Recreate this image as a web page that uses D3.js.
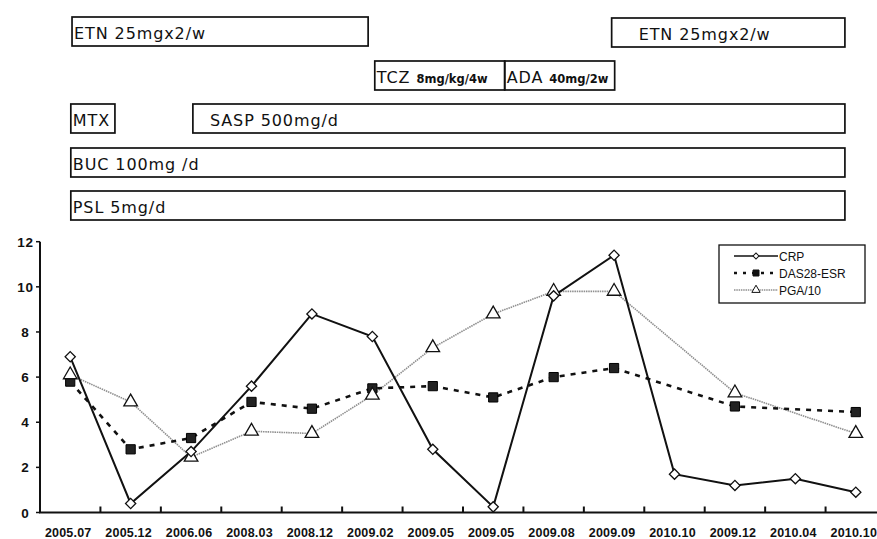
<!DOCTYPE html>
<html><head><meta charset="utf-8">
<script src="https://cdn.jsdelivr.net/npm/d3@7"></script>
<style>
body{margin:0;background:#fff;}
svg{display:block;}
</style></head>
<body>
<svg id="c" width="877" height="539"></svg>
<script>
// ---- data ----
const categories = ["2005.07","2005.12","2006.06","2008.03","2008.12","2009.02","2009.05","2009.05","2009.08","2009.09","2010.10","2009.12","2010.04","2010.10"];
const crp   = [6.9, 0.4, 2.7, 5.6, 8.8, 7.8, 2.8, 0.25, 9.6, 11.4, 1.7, 1.2, 1.5, 0.9];
const das28 = [5.8, 2.8, 3.3, 4.9, 4.6, 5.5, 5.6, 5.1, 6.0, 6.4, null, 4.7, null, 4.45];
const pga10 = [6.1, 4.9, 2.45, 3.6, 3.5, 5.2, 7.3, 8.8, 9.8, 9.8, null, 5.3, null, 3.5];
const yTicks = [0, 2, 4, 6, 8, 10, 12];
const seriesNames = ["CRP", "DAS28-ESR", "PGA/10"];
// treatments: start/end in category-index units (0 = first time point)
const treatNames  = ["ETN 25mgx2/w", "ETN 25mgx2/w", "TCZ", "ADA", "MTX", "SASP 500mg/d", "BUC 100mg /d", "PSL 5mg/d"];
const treatDose   = ["", "", "8mg/kg/4w", "40mg/2w", "", "", "", ""];
const treatStart  = [0.03, 8.96, 5.04, 7.19, 0.01, 2.03, 0.01, 0.01];
const treatEnd    = [4.93, 12.82, 7.19, 9.01, 0.74, 12.82, 12.82, 12.82];
const treatRow    = [0, 0, 1, 1, 2, 2, 3, 4];

// ---- layout ----
const svg = d3.select("#c");
const idx = d3.range(categories.length);
const x = d3.scaleBand().domain(idx).range([40, 886]).padding(0);
const xc = i => x(i) + x.bandwidth() / 2;
const tl = d3.scaleLinear().domain([-0.5, 13.5]).range([40, 886]);
const y = d3.scaleLinear().domain([0, 12]).range([512.5, 241.7]);

const fontMain = "'Liberation Sans', Arial, sans-serif";
const fontBox = "'DejaVu Sans', sans-serif";

// ---- treatment boxes ----
const rowTop = [17, 61, 104, 148, 191];
const rowH = 29;
const g0 = svg.append("g");
treatNames.forEach((nm, k) => {
  const x0 = tl(treatStart[k]), x1 = tl(treatEnd[k]);
  const yt = rowTop[treatRow[k]] + (k === 1 ? 1 : 0);
  g0.append("rect").attr("x", x0).attr("y", yt).attr("width", x1 - x0).attr("height", rowH)
    .attr("fill", "none").attr("stroke", "#111").attr("stroke-width", 1.7);
  let tx = x0 + 2;
  if (k === 1) tx = x0 + 27;
  if (k === 5) tx = x0 + 17;
  const t = g0.append("text").attr("x", tx).attr("y", yt + 21.5)
    .attr("font-family", fontBox).attr("font-size", 16).attr("fill", "#111")
    .attr("letter-spacing", 0.9);
  t.append("tspan").text(nm);
  if (treatDose[k]) {
    t.append("tspan").attr("font-size", 11.5).attr("font-weight", "bold").attr("letter-spacing", 0)
      .attr("dx", 6).text(treatDose[k]);
  }
});

// ---- axes ----
const ga = svg.append("g");
ga.append("line").attr("x1", 40).attr("x2", 40).attr("y1", y(12)).attr("y2", y(0))
  .attr("stroke", "#111").attr("stroke-width", 2);
ga.append("line").attr("x1", 39).attr("x2", 886).attr("y1", y(0)).attr("y2", y(0))
  .attr("stroke", "#111").attr("stroke-width", 2.2);
yTicks.forEach(v => {
  ga.append("line").attr("x1", 36).attr("x2", 40).attr("y1", y(v)).attr("y2", y(v))
    .attr("stroke", "#111").attr("stroke-width", 1.5);
  ga.append("text").attr("x", 25.5).attr("y", y(v) + 5).attr("text-anchor", "middle")
    .attr("font-family", fontMain).attr("font-size", 13.5).attr("font-weight", "bold")
    .attr("letter-spacing", 0.8).attr("fill", "#111").text(v);
});
idx.forEach(i => {
  if (i > 0) ga.append("line").attr("x1", x(i)).attr("x2", x(i)).attr("y1", y(0)).attr("y2", y(0) - 6)
    .attr("stroke", "#111").attr("stroke-width", 2);
  ga.append("text").attr("x", xc(i) - 2).attr("y", 537).attr("text-anchor", "middle")
    .attr("font-family", fontMain).attr("font-size", 12.5).attr("font-weight", "bold")
    .attr("letter-spacing", 0.2).attr("fill", "#111").text(categories[i]);
});

// ---- lines ----
function pts(arr){ return idx.filter(i => arr[i] != null).map(i => [xc(i), y(arr[i])]); }
const line = d3.line();
const gl = svg.append("g");
gl.append("path").attr("d", line(pts(pga10))).attr("fill", "none")
  .attr("stroke", "#8f8f8f").attr("stroke-width", 1.6).attr("stroke-dasharray", "1.5,0.8");
gl.append("path").attr("d", line(pts(das28))).attr("fill", "none")
  .attr("stroke", "#111").attr("stroke-width", 2.6).attr("stroke-dasharray", "5,6");
gl.append("path").attr("d", line(pts(crp))).attr("fill", "none")
  .attr("stroke", "#111").attr("stroke-width", 2);

// markers
const sq = d3.symbol().type(d3.symbolSquare).size(85);
const tri = d3.symbol().type(d3.symbolTriangle).size(80);
const dia = d3.symbol().type(d3.symbolSquare).size(52);
pts(das28).forEach(p => gl.append("path").attr("d", sq()).attr("transform", `translate(${p[0]},${p[1]})`)
  .attr("fill", "#222").attr("stroke", "#000").attr("stroke-width", 1));
pts(pga10).forEach(p => gl.append("path").attr("d", tri()).attr("transform", `translate(${p[0]},${p[1]})`)
  .attr("fill", "#fff").attr("stroke", "#111").attr("stroke-width", 1.3));
pts(crp).forEach(p => gl.append("path").attr("d", dia()).attr("transform", `translate(${p[0]},${p[1]}) rotate(45)`)
  .attr("fill", "#fff").attr("stroke", "#111").attr("stroke-width", 1.3));

// ---- legend ----
const lg = svg.append("g");
lg.append("rect").attr("x", 719).attr("y", 245).attr("width", 146).attr("height", 58)
  .attr("fill", "#fff").attr("stroke", "#111").attr("stroke-width", 1.3);
const ly = [256, 273, 290];
const lstyle = [
  {stroke:"#111", w:1.6, dash:null, sym:d3.symbol().type(d3.symbolSquare).size(18), rot:45, fill:"#fff"},
  {stroke:"#111", w:2.4, dash:"3,6", sym:d3.symbol().type(d3.symbolSquare).size(36), rot:0, fill:"#111"},
  {stroke:"#8f8f8f", w:1.3, dash:"1.5,0.8", sym:d3.symbol().type(d3.symbolTriangle).size(30), rot:0, fill:"#fff"}
];
seriesNames.forEach((nm, k) => {
  const s = lstyle[k];
  lg.append("line").attr("x1", 734).attr("x2", 778).attr("y1", ly[k]).attr("y2", ly[k])
    .attr("stroke", s.stroke).attr("stroke-width", s.w).attr("stroke-dasharray", s.dash);
  lg.append("path").attr("d", s.sym()).attr("transform", `translate(756,${ly[k]}) rotate(${s.rot})`)
    .attr("fill", s.fill).attr("stroke", "#111").attr("stroke-width", 1);
  lg.append("text").attr("x", 779).attr("y", ly[k] + 4.5).attr("font-family", fontMain)
    .attr("font-size", 12).attr("fill", "#111").text(nm);
});
</script>
</body></html>
